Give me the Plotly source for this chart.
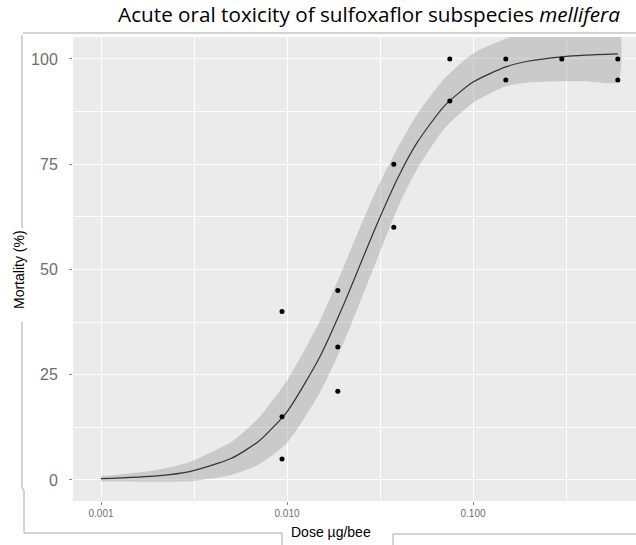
import plotly.graph_objects as go

# Observed mortality (%) per dose (µg/bee)
dose = [0.0094, 0.0094, 0.0094,
        0.01875, 0.01875, 0.01875,
        0.0375, 0.0375,
        0.075, 0.075,
        0.15, 0.15,
        0.3,
        0.6, 0.6]
mortality = [40, 15, 5,
             45, 31.6, 21.1,
             75, 60,
             100, 90,
             100, 95,
             100,
             100, 95]

# Fitted dose-response curve with its confidence band
fit_dose = [0.001, 0.002, 0.003, 0.005, 0.007, 0.01, 0.015, 0.02, 0.03,
            0.04, 0.05, 0.07, 0.1, 0.15, 0.2, 0.3, 0.4, 0.6]
fit_mort = [0.3, 1.0, 2.0, 5.1, 9.1, 16.2, 29.2, 41.3, 60.1,
            72.3, 80.1, 88.8, 94.5, 98.1, 99.5, 100.5, 100.9, 101.2]
fit_lower = [-0.3, -0.4, -0.3, 1.2, 3.6, 8.8, 20.7, 32.3, 51.6,
             65.3, 73.8, 83.4, 89.6, 93.5, 94.4, 94.7, 94.7, 94.6]
fit_upper = [0.9, 2.4, 4.3, 9.0, 14.6, 23.6, 37.7, 50.3, 68.6,
             79.5, 86.8, 95.3, 101.3, 104.8, 106.5, 107.5, 108.0, 108.5]

x_ticks = [0.001, 0.01, 0.1]
x_tick_text = ["0.001", "0.010", "0.100"]
x_minor = [10 ** -2.5, 10 ** -1.5, 10 ** -0.5]
y_ticks = [0, 25, 50, 75, 100]
y_minor = [12.5, 37.5, 62.5, 87.5]

W, H = 636, 545
L, T, R, B = 73, 37, 636, 501


def px(x):
    return (x - L) / (R - L)


def py(y):
    return (B - y) / (B - T)


fig = go.Figure()

fig.add_trace(go.Scatter(
    x=fit_dose + fit_dose[::-1], y=fit_upper + fit_lower[::-1],
    mode="lines", line=dict(width=0, shape="spline", smoothing=0.6),
    fill="toself", fillcolor="rgba(153,153,153,0.4)",
    hoverinfo="skip", showlegend=False))

fig.add_trace(go.Scatter(
    x=fit_dose, y=fit_mort, mode="lines",
    line=dict(color="#333333", width=1.2, shape="spline", smoothing=0.6),
    showlegend=False))

fig.add_trace(go.Scatter(
    x=dose, y=mortality, mode="markers",
    marker=dict(color="black", size=5),
    showlegend=False))

# Frame lines around the figure, broken by the axis titles
frame_color = "#a8a8a8"
frame = [
    (23, 33, 636, 33),
    (22, 35, 22, 228),
    (22, 322, 22, 488),
    (22, 488, 24, 490),
    (24, 490, 24, 533),
    (24, 533, 282, 533),
    (282, 533, 282, 545),
    (393, 545, 393, 534),
    (393, 534, 636, 534),
]
for x0, y0, x1, y1 in frame:
    fig.add_shape(type="line", xref="paper", yref="paper",
                  x0=px(x0), y0=py(y0), x1=px(x1), y1=py(y1),
                  line=dict(color=frame_color, width=1), layer="above")

fig.add_annotation(text="Mortality (%)", xref="paper", yref="paper",
                   x=px(19), y=py(270), textangle=-90, showarrow=False,
                   font=dict(family="Liberation Sans, Arial", size=14, color="black"),
                   xanchor="center", yanchor="middle")
fig.add_annotation(text="Dose µg/bee", xref="paper", yref="paper",
                   x=px(331), y=py(532), showarrow=False,
                   font=dict(family="Liberation Sans, Arial", size=14, color="black"),
                   xanchor="center", yanchor="middle")

fig.update_layout(
    width=W, height=H,
    margin=dict(l=L, r=W - R, t=T, b=H - B, autoexpand=False),
    paper_bgcolor="white", plot_bgcolor="#ebebeb",
    title=dict(text="Acute oral toxicity of sulfoxaflor subspecies <i>mellifera</i>",
               xref="container", yref="container", x=369 / W, y=1 - 15 / H,
               xanchor="center", yanchor="middle",
               font=dict(family="Open Sans", size=20.7, color="black")),
    xaxis=dict(type="log", range=[-3.1505, -0.124],
               tickvals=x_ticks, ticktext=x_tick_text,
               showgrid=True, gridcolor="white", gridwidth=1.3,
               ticks="outside", ticklen=3, tickcolor="#888888",
               tickfont=dict(family="Liberation Sans, Arial", size=10, color="#707070"),
               showline=False, zeroline=False,
               minor=dict(tickvals=x_minor, showgrid=True, gridcolor="white",
                          gridwidth=0.7, ticks="")),
    yaxis=dict(range=[-4.99, 105.2], tickvals=y_ticks,
               showgrid=True, gridcolor="white", gridwidth=1.3,
               ticks="outside", ticklen=3, tickcolor="#888888",
               ticklabelstandoff=8,
               tickfont=dict(family="Liberation Sans, Arial", size=16, color="#6e6e6e"),
               showline=False, zeroline=False,
               minor=dict(tickvals=y_minor, showgrid=True, gridcolor="white",
                          gridwidth=0.7, ticks="")),
)

fig.write_html("out.html")
